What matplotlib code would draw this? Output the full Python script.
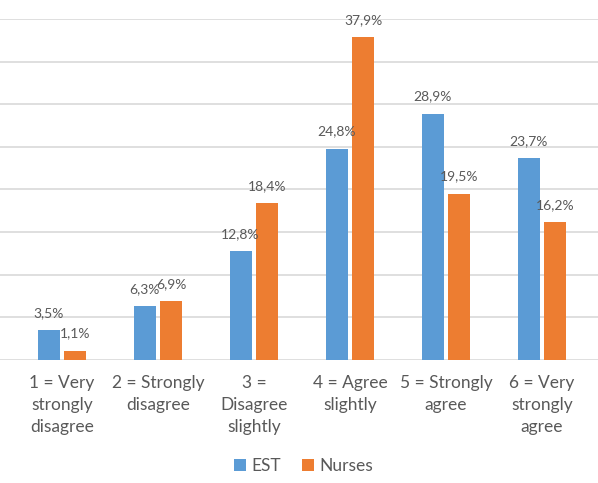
import numpy as np
import matplotlib.pyplot as plt

categories = ['1 = Very\nstrongly\ndisagree', '2 = Strongly\ndisagree', '3 =\nDisagree\nslightly',
              '4 = Agree\nslightly', '5 = Strongly\nagree', '6 = Very\nstrongly\nagree']
est = [3.5, 6.3, 12.8, 24.8, 28.9, 23.7]
nurses = [1.1, 6.9, 18.4, 37.9, 19.5, 16.2]
series_names = ['EST', 'Nurses']

plt.rcParams['font.family'] = ['Lato', 'DejaVu Sans']
text_col = '#595959'
blue = '#5B9BD5'
orange = '#ED7D31'

fig = plt.figure(figsize=(5.98, 4.83), dpi=100)
ax = fig.add_axes([0, 0.2547, 1, 0.706])

x = np.arange(len(categories))
w = 0.229
off = 0.14
b1 = ax.bar(x - off, est, w, color=blue, label=series_names[0], zorder=3)
b2 = ax.bar(x + off, nurses, w, color=orange, label=series_names[1], zorder=3)

for bars, vals in ((b1, est), (b2, nurses)):
    for r, v in zip(bars, vals):
        ax.annotate(f'{v:.1f}%'.replace('.', ','), (r.get_x() + r.get_width() / 2, v),
                    xytext=(0, 8), textcoords='offset points', ha='center', va='bottom',
                    fontsize=10, color=text_col)

ax.set_xlim(-0.646, 5.583)
ax.set_ylim(0, 40)
ax.set_yticks(np.arange(0, 41, 5))
ax.yaxis.grid(True, color='#D9D9D9', linewidth=1.2, zorder=0)
ax.tick_params(axis='y', left=False, labelleft=False)
ax.tick_params(axis='x', length=0, pad=11)
ax.set_xticks(x)
ax.set_xticklabels(categories, fontsize=12.5, color=text_col, linespacing=1.45)
for s in ax.spines.values():
    s.set_visible(False)

fig.legend(handles=[b1, b2], loc='center', bbox_to_anchor=(0.508, 0.035), ncol=2,
           frameon=False, fontsize=12.5, labelcolor=text_col, handlelength=0.7,
           handleheight=0.7, handletextpad=0.3, columnspacing=1.2)

fig.savefig('out.png', dpi=100)
